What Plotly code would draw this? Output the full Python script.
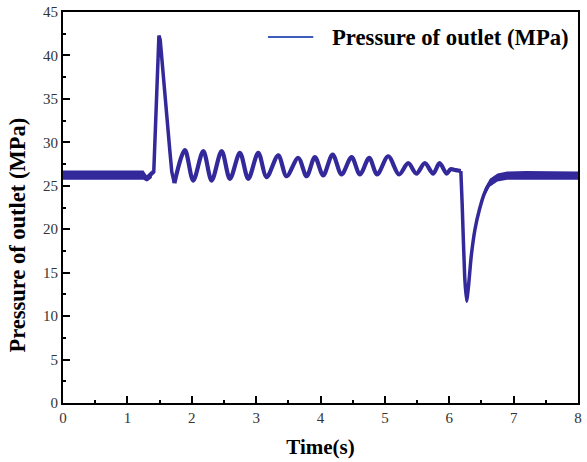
import plotly.graph_objects as go

# Outlet pressure trace: key points (time in s, pressure in MPa)
# Start-up, pressure spike and first trough
rise_t = [0.00, 1.25, 1.30, 1.33, 1.38, 1.41, 1.49, 1.51, 1.66, 1.69, 1.73]
rise_p = [26.2, 26.2, 25.8, 26.0, 26.3, 26.6, 42.3, 41.8, 29.0, 26.6, 25.3]

# Damped oscillation after the spike
osc_t = [1.73, 1.894, 2.023, 2.179, 2.309, 2.464, 2.593, 2.748, 2.878, 3.033, 3.163,
         3.344, 3.473, 3.654, 3.784, 3.913, 4.042, 4.188, 4.327, 4.483, 4.612, 4.757,
         4.88, 5.052, 5.22, 5.362, 5.49, 5.621, 5.75, 5.85, 5.96, 6.02, 6.10, 6.18]
osc_p = [25.3, 29.1, 25.6, 29.0, 25.6, 29.0, 25.8, 28.8, 25.8, 28.8, 26.0,
         28.5, 26.1, 28.2, 26.1, 28.3, 26.2, 28.6, 26.3, 28.3, 26.3, 28.2,
         26.3, 28.4, 26.3, 27.6, 26.4, 27.6, 26.4, 27.6, 26.4, 26.9, 26.8, 26.7]

# Pressure drop and recovery
drop_t = [6.18, 6.20, 6.24, 6.27, 6.30, 6.34, 6.40, 6.47, 6.55, 6.63, 6.75, 6.90, 7.20, 8.00]
drop_p = [26.7, 23.0, 14.5, 11.7, 13.5, 16.8, 20.0, 22.3, 24.2, 25.3, 25.9, 26.2, 26.2, 26.2]

# Noise envelope of the steady segments (time, lower, upper)
env_pre_t = [0.00, 1.25, 1.30, 1.33, 1.38]
env_pre_lo = [25.7, 25.7, 25.5, 25.6, 25.9]
env_pre_hi = [26.75, 26.75, 26.2, 26.4, 26.8]
env_post_t = [6.55, 6.63, 6.75, 6.90, 7.20, 8.00]
env_post_lo = [23.8, 24.9, 25.5, 25.7, 25.7, 25.7]
env_post_hi = [24.7, 25.8, 26.4, 26.65, 26.7, 26.65]

x_ticks = [0, 1, 2, 3, 4, 5, 6, 7, 8]
y_ticks = [0, 5, 10, 15, 20, 25, 30, 35, 40, 45]

series_name = "Pressure of outlet (MPa)"
y_title = "Pressure of outlet (MPa)"
x_title = "Time(s)"

trace_color = "#33299a"
legend_color = "#3d5cbc"
serif = "Liberation Serif, Times New Roman, serif"

fig = go.Figure()

for t, lo, hi in [(env_pre_t, env_pre_lo, env_pre_hi), (env_post_t, env_post_lo, env_post_hi)]:
    fig.add_trace(go.Scatter(x=t, y=hi, mode="lines", line=dict(width=0, color=trace_color),
                             showlegend=False, hoverinfo="skip"))
    fig.add_trace(go.Scatter(x=t, y=lo, mode="lines", line=dict(width=0, color=trace_color),
                             fill="tonexty", fillcolor=trace_color, showlegend=False,
                             hoverinfo="skip"))

fig.add_trace(go.Scatter(x=rise_t, y=rise_p, mode="lines", name=series_name,
                         line=dict(color=trace_color, width=3.5), showlegend=False))
fig.add_trace(go.Scatter(x=osc_t, y=osc_p, mode="lines", name=series_name,
                         line=dict(color=trace_color, width=4.2, shape="spline", smoothing=0.9),
                         showlegend=False))
fig.add_trace(go.Scatter(x=drop_t, y=drop_p, mode="lines", name=series_name,
                         line=dict(color=trace_color, width=3.5, shape="spline", smoothing=0.5),
                         showlegend=False))

axis_common = dict(
    showline=True, linecolor="black", linewidth=2, mirror=True,
    ticks="inside", ticklen=7, tickwidth=1.5, tickcolor="black",
    showgrid=False, zeroline=False, automargin=False,
    tickfont=dict(family=serif, size=15, color="#333333"),
)

fig.update_xaxes(range=[0, 8], tickvals=x_ticks,
                 minor=dict(dtick=0.5, ticks="inside", ticklen=3, tickcolor="black", tickwidth=1.5),
                 title=dict(text=f"<b>{x_title}</b>", standoff=14,
                            font=dict(family=serif, size=21, color="black")),
                 **axis_common)
fig.update_yaxes(range=[0, 45], tickvals=y_ticks,
                 minor=dict(dtick=2.5, ticks="inside", ticklen=3, tickcolor="black", tickwidth=1.5),
                 **axis_common)

# Y-axis title, placed slightly below the axis centre
fig.add_annotation(xref="paper", yref="paper", x=-0.088, y=0.43,
                   text=f"<b>{y_title}</b>", textangle=-90, showarrow=False,
                   xanchor="center", yanchor="middle",
                   font=dict(family=serif, size=22.5, color="black"))

# Legend: sample line and label in the upper right corner
fig.add_shape(type="line", xref="paper", yref="paper",
              x0=0.398, x1=0.486, y0=0.936, y1=0.936,
              line=dict(color=legend_color, width=2))
fig.add_annotation(xref="paper", yref="paper", x=0.5184, y=0.936,
                   text=f"<b>{series_name}</b>", showarrow=False,
                   xanchor="left", yanchor="middle",
                   font=dict(family=serif, size=22.7, color="black"))

fig.update_layout(
    width=587, height=462,
    margin=dict(l=63, r=9, t=12, b=59),
    plot_bgcolor="white", paper_bgcolor="white",
    showlegend=False,
)

fig.write_html("out.html")
